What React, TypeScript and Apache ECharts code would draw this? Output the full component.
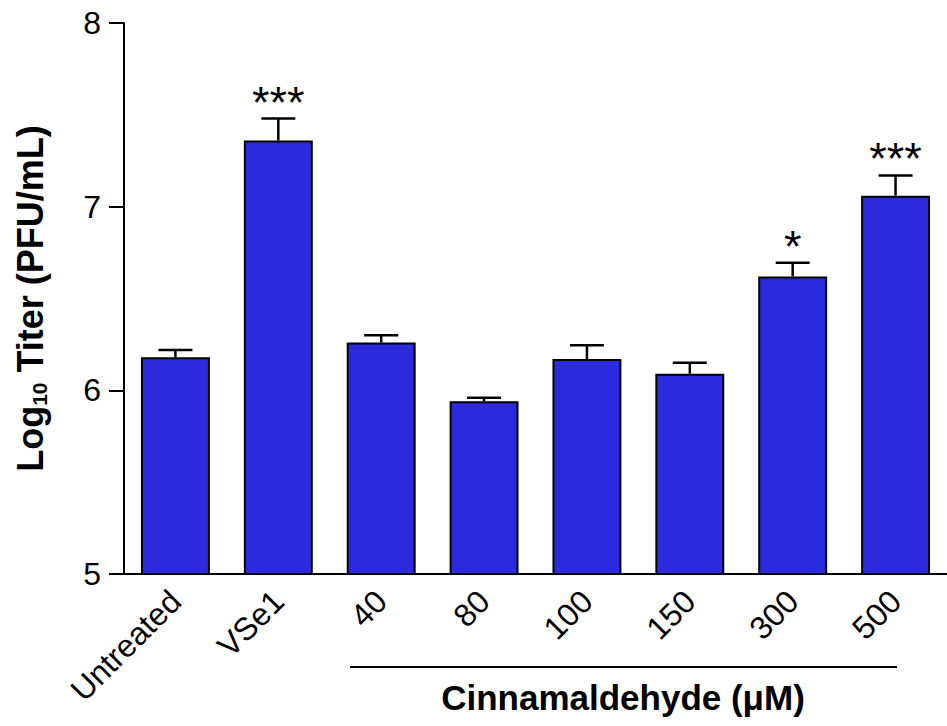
import React, { useEffect, useRef } from "react";
import * as echarts from "echarts";

// Treatment groups along the x axis
const categories = ["Untreated", "VSe1", "40", "80", "100", "150", "300", "500"];
// Mean log10 titer per group
const means = [6.18, 7.36, 6.26, 5.94, 6.17, 6.09, 6.62, 7.06];
// Upper end of each error bar (mean + SEM)
const upperErrors = [6.22, 7.48, 6.3, 5.96, 6.245, 6.15, 6.695, 7.17];
// Significance markers above the error bars
const significance = ["", "***", "", "", "", "", "*", "***"];
// Y axis range and step
const yMin = 5;
const yMax = 8;
const yStep = 1;

const FONT = 'Arial, "Liberation Sans", Helvetica, sans-serif';
const BAR_COLOR = "#2b2bdd";

export default function App() {
  const ref = useRef<HTMLDivElement>(null);

  useEffect(() => {
    if (!ref.current) return;
    const chart = echarts.init(ref.current, undefined, { renderer: "svg" });

    const errorData = categories.map((_, i) => [i, means[i], upperErrors[i]]);
    const starData = categories
      .map((_, i) => (significance[i] ? [i, upperErrors[i], significance[i]] : null))
      .filter((d) => d !== null);

    chart.setOption({
      animation: false,
      textStyle: { fontFamily: FONT },
      grid: { left: 124, top: 23, width: 826, height: 551, containLabel: false },
      xAxis: {
        type: "category",
        data: categories,
        axisLine: { lineStyle: { color: "#000", width: 2 } },
        axisTick: { alignWithLabel: true, length: 15, lineStyle: { color: "#000", width: 2 } },
        axisLabel: { rotate: 45, fontSize: 32, color: "#000", margin: 22, fontFamily: FONT },
        splitLine: { show: false },
      },
      yAxis: {
        type: "value",
        min: yMin,
        max: yMax,
        interval: yStep,
        axisLine: { show: true, lineStyle: { color: "#000", width: 2 } },
        axisTick: { show: true, length: 15, lineStyle: { color: "#000", width: 2 } },
        axisLabel: { fontSize: 32, color: "#000", margin: 23, fontFamily: FONT },
        splitLine: { show: false },
        name: "{a|Log}{s|10}{a| Titer (PFU/mL)}",
        nameLocation: "middle",
        nameRotate: 90,
        nameGap: 74,
        nameTextStyle: {
          rich: {
            a: { fontSize: 36, fontWeight: "bold", color: "#000", fontFamily: FONT, lineHeight: 40 },
            s: {
              fontSize: 21,
              fontWeight: "bold",
              color: "#000",
              fontFamily: FONT,
              verticalAlign: "bottom",
              lineHeight: 14,
            },
          },
        },
      },
      series: [
        {
          type: "bar",
          data: means,
          barWidth: "67%",
          itemStyle: { color: BAR_COLOR, borderColor: "#000", borderWidth: 2 },
          z: 2,
        },
        {
          type: "custom",
          data: errorData,
          encode: { x: 0, y: [1, 2] },
          z: 3,
          renderItem: (params: any, api: any) => {
            const base = api.coord([api.value(0), api.value(1)]);
            const top = api.coord([api.value(0), api.value(2)]);
            const half = 17;
            const style = { stroke: "#000", lineWidth: 2.5 };
            return {
              type: "group",
              children: [
                { type: "line", shape: { x1: base[0], y1: base[1], x2: top[0], y2: top[1] }, style },
                { type: "line", shape: { x1: top[0] - half, y1: top[1], x2: top[0] + half, y2: top[1] }, style },
              ],
            };
          },
        },
        {
          type: "scatter",
          data: starData,
          symbolSize: 0,
          z: 4,
          itemStyle: { color: "#000", opacity: 1 },
          label: {
            show: true,
            position: "top",
            distance: -6,
            formatter: (p: any) => p.value[2],
            fontSize: 45,
            color: "#000",
            opacity: 1,
            textBorderWidth: 0,
            fontFamily: FONT,
          },
        },
      ],
      graphic: [
        {
          type: "line",
          shape: { x1: 350, y1: 667, x2: 897, y2: 667 },
          style: { stroke: "#000", lineWidth: 2 },
        },
        {
          type: "text",
          x: 623,
          y: 697,
          style: {
            text: "Cinnamaldehyde (μM)",
            fill: "#000",
            font: `bold 35px ${FONT}`,
            align: "center",
            verticalAlign: "middle",
          },
        },
      ],
    });

    return () => chart.dispose();
  }, []);

  return (
    <div
      ref={ref}
      style={{ position: "absolute", left: 0, top: 0, width: 947, height: 726 }}
    />
  );
}
